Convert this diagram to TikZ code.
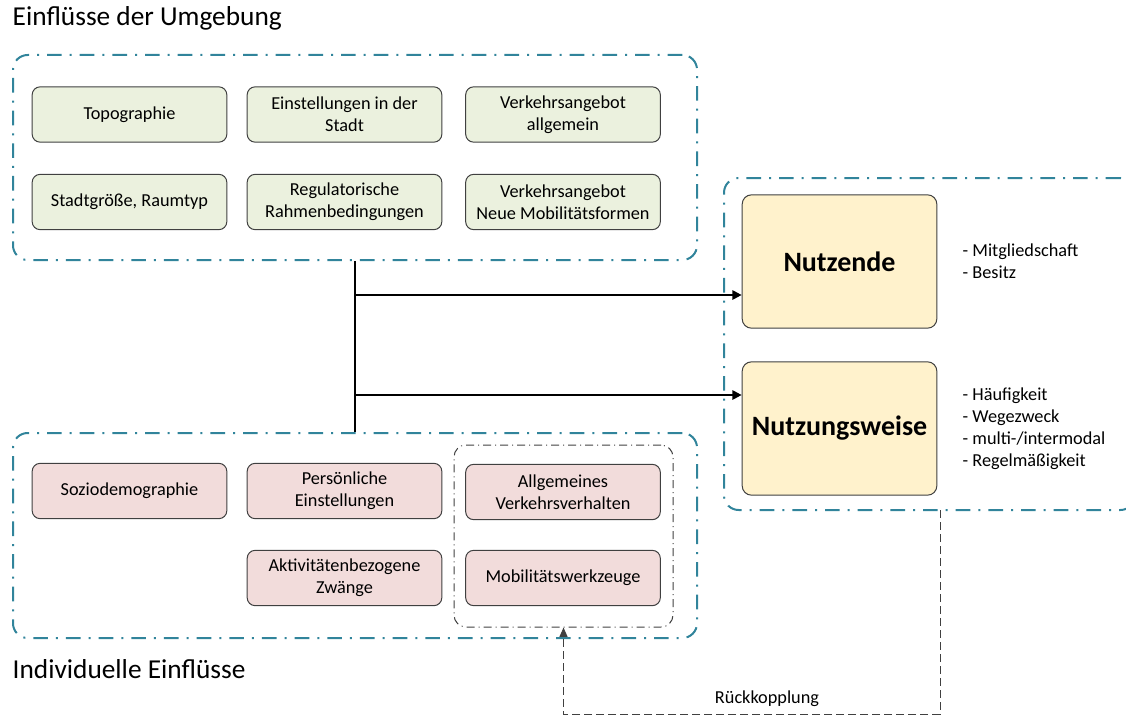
\documentclass[tikz,border=0pt]{standalone}
\usepackage{fontspec}
\setmainfont{Carlito}
\usetikzlibrary{arrows.meta,positioning}
\definecolor{rahmenblau}{HTML}{31849B}
\definecolor{gruenfill}{HTML}{EBF1DE}
\definecolor{rosafill}{HTML}{F2DCDB}
\definecolor{gelbfill}{HTML}{FFF2CC}
\definecolor{randgrau}{HTML}{404040}
\newcommand{\kastenfont}{\fontsize{13.7}{16.5}\selectfont}
\tikzset{
  rahmen/.style={draw=rahmenblau, line width=1.5pt, rounded corners=11pt,
    dash pattern=on 11pt off 6pt on 1.5pt off 6pt},
  innenrahmen/.style={draw=randgrau, line width=0.75pt, rounded corners=9pt,
    dash pattern=on 6pt off 3pt on 0.75pt off 3pt},
  kasten/.style={draw=randgrau, line width=0.75pt, rounded corners=6pt,
    minimum width=146pt, minimum height=41.5pt, align=center, font=\kastenfont},
  umwelt/.style={kasten, fill=gruenfill},
  person/.style={kasten, fill=rosafill},
  ziel/.style={draw=randgrau, line width=0.75pt, rounded corners=7pt, fill=gelbfill,
    minimum width=146pt, minimum height=100pt, font=\fontsize{21}{25}\selectfont\bfseries},
  pfeil/.style={line width=1.5pt, -{Triangle[length=7pt,width=7pt]}},
  rueck/.style={draw=randgrau, line width=0.75pt, dash pattern=on 6pt off 3pt,
    -{Triangle[length=7pt,width=6pt]}}
}
\begin{document}
\begin{tikzpicture}[x=0.75pt, y=-0.75pt]
\useasboundingbox (0,0) rectangle (1126,717);
\clip (0,0) rectangle (1126,717);
% Rahmen
\node[rahmen, minimum width=513pt, minimum height=153.75pt] (umgebung) at (355,157.5) {};
\node[rahmen, minimum width=513pt, minimum height=153.75pt] (individuell) at (355,535.5) {};
\node[rahmen, minimum width=308.25pt, minimum height=249pt] (wirkung) at (929.5,344) {};
\node[innenrahmen, minimum width=164.25pt, minimum height=136.5pt] (verhalten) at (563.5,536) {};
\node[anchor=west, font=\fontsize{20.5}{24}\selectfont] (titelU) at (8,18) {Einflüsse der Umgebung};
\node[anchor=west, font=\fontsize{20.5}{24}\selectfont] (titelI) at (8,669) {Individuelle Einflüsse};
% Umgebung
\node[umwelt] (topo) at (129.5,114.5) {Topographie};
\node[umwelt] (einst) at (344.5,114.5) {Einstellungen in der\\Stadt};
\node[umwelt] (angebot) at (563,114.5) {Verkehrsangebot\\allgemein};
\node[umwelt] (groesse) at (129.5,202) {Stadtgröße, Raumtyp};
\node[umwelt] (regel) at (344.5,202) {Regulatorische\\Rahmenbedingungen};
\node[umwelt] (neue) at (563,202) {Verkehrsangebot\\Neue Mobilitätsformen};
% Individuell
\node[person] (sozio) at (129.5,491) {Soziodemographie};
\node[person] (pers) at (344.5,491) {Persönliche\\Einstellungen};
\node[person] (allg) at (563,492) {Allgemeines\\Verkehrsverhalten};
\node[person] (zwang) at (344.5,578) {Aktivitätenbezogene\\Zwänge};
\node[person] (werkz) at (563,578) {Mobilitätswerkzeuge};
% Wirkung
\node[ziel] (nutzende) at (839.5,261.5) {Nutzende};
\node[ziel] (nutzweise) at (839.5,428.5) {Nutzungsweise};
\node[anchor=west, align=left, font=\kastenfont] (listeA) at (958,261) {- Mitgliedschaft\\- Besitz};
\node[anchor=west, align=left, font=\kastenfont] (listeB) at (958,429) {- Häufigkeit\\- Wegezweck\\- multi-/intermodal\\- Regelmäßigkeit};
% Verbindungen
\coordinate (j1) at (355,295);
\coordinate (j2) at (355,395);
\draw[line width=1.5pt] (umgebung.south) -- (individuell.north);
\draw[pfeil] (j1) -- (j1 -| nutzende.west);
\draw[pfeil] (j2) -- (j2 -| nutzweise.west);
\coordinate (r1) at (940,510);
\coordinate (r2) at (940,714);
\draw[rueck] (r1) -- (r2) -| (verhalten.south);
\node[font=\kastenfont] (rueckText) at (767,699) {Rückkopplung};
\end{tikzpicture}
\end{document}
